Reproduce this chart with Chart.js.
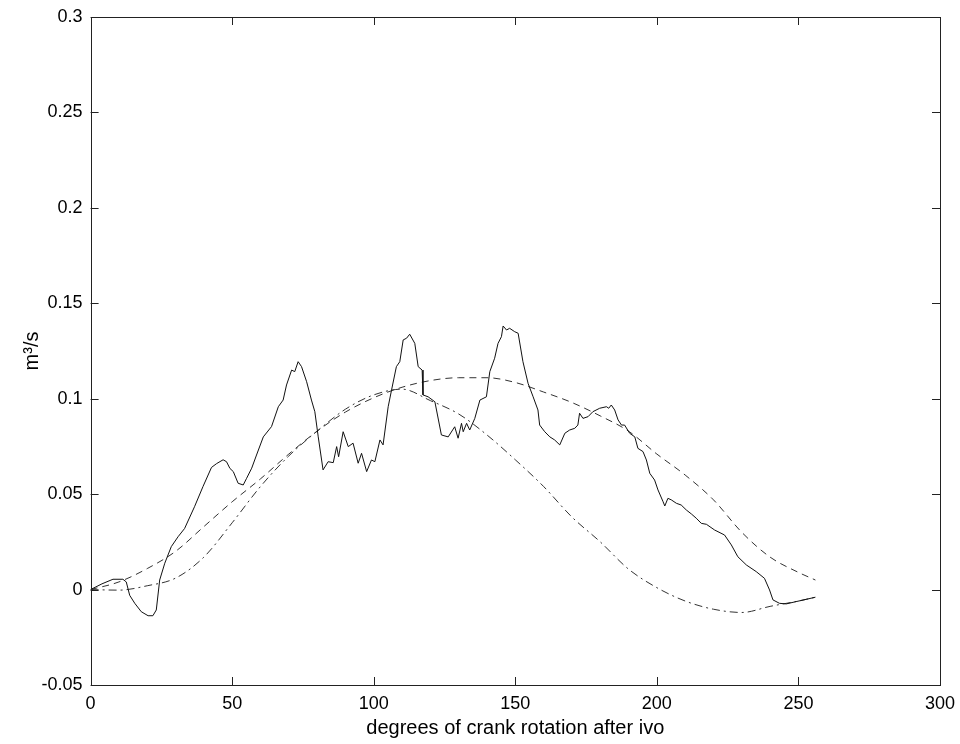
<!DOCTYPE html>
<html>
<head>
<meta charset="utf-8">
<script src="https://cdn.jsdelivr.net/npm/chart.js@4"></script>
<style>
  html, body { margin: 0; padding: 0; background: #fff; }
  #wrap { width: 960px; height: 744px; }
</style>
</head>
<body>
<div id="wrap"><canvas id="my-chart" width="960" height="744"></canvas></div>
<script>
// measured flow (solid)
const solidDeg = [0, 4, 7.9, 11.4, 12.6, 13.8, 15.6, 17.9, 20.3, 22.0, 23.2, 24.4, 26.2, 28.5, 30.9, 33.2, 36.7, 39.7,
  42.7, 44.5, 46.8, 48.0, 49.2, 50.4, 52.1, 53.9, 55.1, 56.9, 58.6, 61.0, 63.9, 66.3, 68.0, 69.2, 71.0, 72.1, 73.3,
  74.5, 76.3, 78.0, 79.2, 80.4, 82.1, 83.9, 85.7, 86.9, 87.6, 89.2, 91.0, 92.7, 94.5, 95.7, 97.5, 99.2, 100.4, 102.2,
  103.3, 105.1, 106.3, 108.0, 109.2, 110.4, 111.6, 112.7, 114.5, 115.7, 117.1, 117.4, 119.2, 121.6, 123.9, 126.3,
  128.6, 129.8, 131.0, 131.6, 132.8, 133.9, 135.7, 137.5, 139.8, 141.0, 142.7, 143.9, 145.1, 145.7, 146.9, 148.0,
  149.8, 151.0, 152.7, 154.5, 156.3, 158.0, 158.6, 160.4, 162.2, 163.9, 165.7, 167.5, 169.2, 171.0, 172.1, 172.7,
  173.9, 175.7, 177.4, 179.8, 182.2, 183.0, 183.9, 185.1, 186.3, 187.5, 188.6, 190.4, 192.2, 193.3, 195.1, 196.3,
  197.5, 199.2, 200.4, 202.2, 202.8, 203.9, 205.1, 206.9, 208.6, 210.4, 212.2, 213.9, 215.7, 217.5, 220.4, 223.9,
  226.3, 228.6, 231.6, 235.1, 238.0, 239.8, 241.0, 243.3, 245.7, 249.2, 252.8, 256];
const solidFlow = [0, 0.003, 0.0054, 0.0054, 0.004, -0.003, -0.0072, -0.0116, -0.0137, -0.0137, -0.0107, 0.005, 0.0138,
  0.0225, 0.0277, 0.032, 0.0434, 0.054, 0.064, 0.066, 0.068, 0.067, 0.0635, 0.0618, 0.0557, 0.0548, 0.0583, 0.0636,
  0.0705, 0.080, 0.0854, 0.0958, 0.0993, 0.1072, 0.115, 0.1142, 0.1194, 0.1168, 0.1089, 0.0993, 0.0932, 0.080, 0.0627,
  0.067, 0.0665, 0.0749, 0.0696, 0.0827, 0.0749, 0.0767, 0.0662, 0.0714, 0.0618, 0.0679, 0.067, 0.0784, 0.0758, 0.0958,
  0.1046, 0.1168, 0.1194, 0.1308, 0.1317, 0.1338, 0.129, 0.1168, 0.115, 0.102, 0.101, 0.0984, 0.081, 0.080, 0.0853,
  0.0793, 0.0871, 0.0827, 0.0871, 0.0836, 0.0897, 0.0993, 0.101, 0.1142, 0.1212, 0.129, 0.1325, 0.1381, 0.136, 0.1369,
  0.1351, 0.1343, 0.1194, 0.1081, 0.101, 0.0941, 0.0862, 0.0827, 0.080, 0.0784, 0.0758, 0.0819, 0.0836, 0.0845, 0.0862,
  0.0924, 0.0897, 0.0906, 0.0932, 0.095, 0.0958, 0.095, 0.0967, 0.0941, 0.0889, 0.0862, 0.0862, 0.0819, 0.080, 0.074,
  0.0723, 0.0679, 0.0609, 0.0574, 0.0522, 0.046, 0.0438, 0.0478, 0.047, 0.0452, 0.0443, 0.0417, 0.0396, 0.0374, 0.0347,
  0.0342, 0.0312, 0.0286, 0.0234, 0.0172, 0.0129, 0.0094, 0.0059, -0.0002, -0.0054, -0.0072, -0.0075, -0.0063, -0.0051,
  -0.004];

// smooth model curves
const curveDeg = [0, 10, 20, 30, 40, 50, 60, 70, 80, 90, 100, 110, 120, 130, 140, 150, 160, 170, 180, 190, 200, 210,
  220, 230, 240, 250, 256];
const dashFlow = [0, 0.004, 0.011, 0.020, 0.033, 0.046, 0.058, 0.071, 0.083, 0.093, 0.1005, 0.106, 0.1095, 0.111,
  0.111, 0.1085, 0.1035, 0.098, 0.091, 0.083, 0.071, 0.060, 0.047, 0.030, 0.017, 0.009, 0.005];
const dashDotFlow = [0, -0.0003, 0.002, 0.006, 0.017, 0.035, 0.054, 0.070, 0.083, 0.0945, 0.102, 0.105, 0.099, 0.092,
  0.081, 0.068, 0.054, 0.038, 0.025, 0.0107, 0.001, -0.006, -0.0103, -0.012, -0.0088, -0.006, -0.004];

const xTicks = [0, 50, 100, 150, 200, 250, 300];
const yTicks = [-0.05, 0, 0.05, 0.1, 0.15, 0.2, 0.25, 0.3];
const yTickLabels = ["-0.05", "0", "0.05", "0.1", "0.15", "0.2", "0.25", "0.3"];

const tickFont = { family: "'Liberation Sans', Arial, sans-serif", size: 18 };
const titleFont = { family: "'Liberation Sans', Arial, sans-serif", size: 20 };

function pairs(xs, ys) {
  return xs.map((x, i) => ({ x: x, y: ys[i] }));
}

// box + inward ticks, matlab style
const frame = {
  id: "frame",
  afterDraw(chart) {
    const { ctx, chartArea: a, scales } = chart;
    const len = 8;
    ctx.save();
    ctx.strokeStyle = "#222";
    ctx.lineWidth = 1;
    ctx.strokeRect(Math.round(a.left) + 0.5, Math.round(a.top) + 0.5,
      Math.round(a.right - a.left), Math.round(a.bottom - a.top));
    ctx.beginPath();
    xTicks.forEach((v) => {
      const px = Math.round(scales.x.getPixelForValue(v)) + 0.5;
      ctx.moveTo(px, a.bottom); ctx.lineTo(px, a.bottom - len);
      ctx.moveTo(px, a.top); ctx.lineTo(px, a.top + len);
    });
    yTicks.forEach((v) => {
      const py = Math.round(scales.y.getPixelForValue(v)) + 0.5;
      ctx.moveTo(a.left, py); ctx.lineTo(a.left + len, py);
      ctx.moveTo(a.right, py); ctx.lineTo(a.right - len, py);
    });
    ctx.stroke();
    ctx.restore();
  }
};

const ctx = document.getElementById("my-chart").getContext("2d");
const chart = new Chart(ctx, {
  type: "line",
  data: {
    datasets: [
      {
        label: "measured",
        data: pairs(solidDeg, solidFlow),
        borderColor: "#111",
        borderWidth: 1,
      },
      {
        label: "dashed",
        data: pairs(curveDeg, dashFlow),
        borderColor: "#333",
        borderWidth: 1,
        borderDash: [7, 5],
        cubicInterpolationMode: "monotone",
      },
      {
        label: "dash-dot",
        data: pairs(curveDeg, dashDotFlow),
        borderColor: "#333",
        borderWidth: 1,
        borderDash: [8, 4, 2, 4],
        cubicInterpolationMode: "monotone",
      },
    ],
  },
  options: {
    responsive: false,
    animation: false,
    devicePixelRatio: 1,
    elements: { point: { radius: 0 }, line: { tension: 0 } },
    layout: { padding: { top: 17, right: 20, left: 0, bottom: 0 } },
    plugins: { legend: { display: false }, tooltip: { enabled: false } },
    scales: {
      x: {
        type: "linear",
        min: 0,
        max: 300,
        grid: { display: false, drawTicks: false },
        border: { display: false },
        afterBuildTicks: (s) => { s.ticks = xTicks.map((v) => ({ value: v })); },
        afterFit: (s) => { s.height = 59; s.paddingLeft = 0; s.paddingRight = 0; },
        ticks: { color: "#000", font: tickFont, padding: 8, maxRotation: 0 },
        title: {
          display: true,
          text: "degrees of crank rotation after ivo",
          color: "#000",
          font: titleFont,
          padding: { top: 0, bottom: 4 },
        },
      },
      y: {
        type: "linear",
        min: -0.05,
        max: 0.3,
        grid: { display: false, drawTicks: false },
        border: { display: false },
        afterBuildTicks: (s) => { s.ticks = yTicks.map((v) => ({ value: v })); },
        afterFit: (s) => { s.width = 90.6; s.paddingTop = 0; s.paddingBottom = 0; },
        ticks: {
          color: "#000",
          font: tickFont,
          padding: 8,
          callback: (v) => yTickLabels[yTicks.indexOf(v)],
        },
        title: {
          display: true,
          text: "m³/s",
          color: "#000",
          font: titleFont,
          padding: { top: 20, bottom: 0 },
        },
      },
    },
  },
  plugins: [frame],
});
</script>
</body>
</html>
